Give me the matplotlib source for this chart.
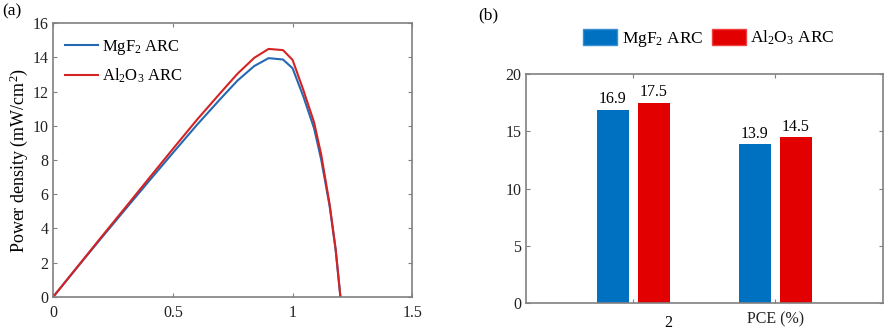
import numpy as np
import matplotlib
matplotlib.use('Agg')
import matplotlib.pyplot as plt
from matplotlib.patches import Patch

plt.rcParams['font.family'] = ['Liberation Serif', 'DejaVu Serif']
plt.rcParams['mathtext.fontset'] = 'custom'
plt.rcParams['mathtext.rm'] = 'Liberation Serif'
plt.rcParams['mathtext.it'] = 'Liberation Serif:italic'

# panel (a): power density curves
voltage = [0, 0.1, 0.2, 0.3, 0.4, 0.5, 0.6, 0.7, 0.77, 0.84, 0.9, 0.96,
           1.0, 1.045, 1.09, 1.12, 1.155, 1.18, 1.2]
p_mgf2 = [0, 1.72, 3.42, 5.10, 6.77, 8.42, 10.05, 11.60, 12.65, 13.50, 13.96,
          13.88, 13.37, 11.72, 9.85, 8.00, 5.30, 2.75, 0]
p_al2o3 = [0, 1.74, 3.48, 5.20, 6.93, 8.65, 10.35, 11.95, 13.05, 13.98, 14.50,
           14.43, 13.86, 12.10, 10.20, 8.30, 5.40, 2.80, 0]

# panel (b): bar values
groups = ['2', 'PCE (%)']
bar_mgf2 = [16.9, 13.9]
bar_al2o3 = [17.5, 14.5]

line_blue = '#2569b3'
line_red = '#d42323'
bar_blue = '#0070c0'
bar_red = '#e30000'
axis_grey = '#808080'
fs = 11.5

fig = plt.figure(figsize=(8.86, 3.36), dpi=100)


def style_axes(ax):
    for s in ax.spines.values():
        s.set_color(axis_grey)
        s.set_linewidth(1.2)
    ax.tick_params(direction='in', top=True, right=True, color=axis_grey,
                   length=3, width=0.8, labelsize=fs, labelcolor='#222222')


ax1 = fig.add_axes([0.0602, 0.117, 0.405, 0.8137])
ax1.plot(voltage, p_mgf2, color=line_blue, lw=1.5, label='MgF$_2$ ARC')
ax1.plot(voltage, p_al2o3, color=line_red, lw=1.5, label='Al$_2$O$_3$ ARC')
ax1.set_xlim(0, 1.5)
ax1.set_ylim(0, 16)
ax1.set_xticks([0, 0.5, 1, 1.5])
ax1.set_xticklabels(['0', '0.5', '1', '1.5'])
ax1.set_yticks(range(0, 17, 2))
ax1.set_ylabel('Power density (mW/cm$^2$)', fontsize=13, labelpad=2)
style_axes(ax1)
ax1.tick_params(axis='x', pad=6)
ax1.legend(loc='upper left', frameon=False, fontsize=12,
           handlelength=2.0, handletextpad=0.25, labelspacing=0.55,
           bbox_to_anchor=(-0.01, 1.0))
fig.text(0.003, 0.965, '(a)', fontsize=fs + 1, ha='left', va='center')

ax2 = fig.add_axes([0.5937, 0.0973, 0.4033, 0.6825])
x = np.arange(1, len(groups) + 1)
w = 0.225
off = 0.143
b1 = ax2.bar(x - off, bar_mgf2, w, color=bar_blue, label='MgF$_2$ ARC')
b2 = ax2.bar(x + off, bar_al2o3, w, color=bar_red, label='Al$_2$O$_3$ ARC')
for bars, vals in ((b1, bar_mgf2), (b2, bar_al2o3)):
    for r, v in zip(bars, vals):
        ax2.text(r.get_x() + r.get_width() / 2, v + 0.2, f'{v:.1f}',
                 ha='center', va='bottom', fontsize=fs)
ax2.set_xlim(0.246, 2.76)
ax2.set_ylim(0, 20)
ax2.set_yticks([0, 5, 10, 15, 20])
ax2.set_xticks(x)
ax2.set_xticklabels(['', groups[1]])
style_axes(ax2)
ax2.tick_params(axis='x', pad=6)
ax2.text(x[0] + 0.25, -0.05, groups[0], transform=ax2.get_xaxis_transform(),
         ha='center', va='top', fontsize=fs)
handles = [Patch(facecolor=bar_blue, edgecolor='#3b8fd0', label='MgF$_2$ ARC'),
           Patch(facecolor=bar_red, edgecolor='#f04040', label='Al$_2$O$_3$ ARC')]
fig.legend(handles=handles, loc='center', ncol=2, frameon=False,
           bbox_to_anchor=(0.80, 0.885), fontsize=12.5,
           handlelength=1.95, handleheight=1.1, handletextpad=0.25,
           columnspacing=0.5)
fig.text(0.54, 0.955, '(b)', fontsize=fs + 1, ha='left', va='center')

fig.savefig('out.png', dpi=100)
